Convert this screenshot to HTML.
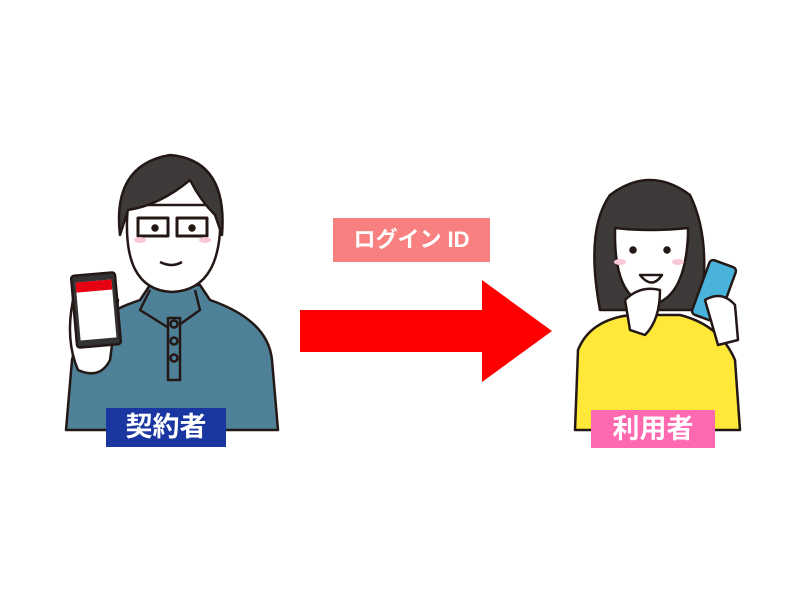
<!DOCTYPE html>
<html><head><meta charset="utf-8"><style>
body{margin:0;background:#fff;width:800px;height:600px;overflow:hidden;font-family:"Liberation Sans","Noto Sans CJK JP",sans-serif}
</style></head><body>
<svg width="800" height="600" viewBox="0 0 800 600" xmlns="http://www.w3.org/2000/svg">
<g stroke="#231815" stroke-width="2.5" stroke-linejoin="round">
<!-- man -->
<path d="M66 430 L72 360 Q80 320 140 300 L150 285 L200 285 L210 300 Q268 320 272 360 L278 430 Z" fill="#4e8197"/>
<path d="M150 290 L140 310 L172 330 L200 310 L195 290" fill="#4e8197"/>
<rect x="168" y="318" width="12" height="62" fill="#4e8197"/>
<circle cx="174" cy="324" r="3.5" fill="#4e8197"/><circle cx="174" cy="341" r="3.5" fill="#4e8197"/><circle cx="174" cy="358" r="3.5" fill="#4e8197"/>
<path d="M128 205 Q120 290 172 292 Q225 290 220 205 Z" fill="#fff"/>
<path d="M120 235 Q112 165 170 155 Q228 160 222 235 L215 215 Q200 200 190 180 Q160 205 128 210 Z" fill="#3e3a39"/>
<rect x="138" y="218" width="30" height="18" fill="none" stroke-width="3"/>
<rect x="177" y="218" width="30" height="18" fill="none" stroke-width="3"/>
<circle cx="155" cy="228" r="2.5" fill="#231815"/><circle cx="192" cy="228" r="2.5" fill="#231815"/>
<path d="M160 262 Q172 268 182 262" fill="none"/>
<path d="M73 300 Q65 340 78 370 Q100 380 110 360 L118 300 Z" fill="#fff"/>
<rect x="74" y="274" width="44" height="72" rx="3" fill="#333" transform="rotate(-5 96 310)"/>
<rect x="78" y="281" width="36" height="58" fill="#fff" stroke="none" transform="rotate(-5 96 310)"/>
<rect x="78" y="281" width="36" height="10" fill="#e60012" stroke="none" transform="rotate(-5 96 310)"/>
<!-- woman -->
<path d="M575 430 L578 350 Q590 320 630 315 L680 315 Q720 325 735 360 L740 430 Z" fill="#ffe838"/>
<path d="M600 310 Q585 230 610 195 Q650 165 690 195 Q712 240 700 310 Z" fill="#3e3a39"/>
<path d="M615 235 Q615 300 650 305 Q685 300 688 235 L688 228 Q650 232 615 228 Z" fill="#fff"/>
<circle cx="633" cy="250" r="2.5" fill="#231815"/><circle cx="667" cy="250" r="2.5" fill="#231815"/>
<path d="M640 275 Q652 290 662 275 Z" fill="#fff"/>
<path d="M625 300 Q640 285 660 290 Q660 320 645 335 L630 330 Z" fill="#fff"/>
<rect x="700" y="262" width="28" height="58" rx="4" fill="#4ab3dc" transform="rotate(20 714 291)"/>
<path d="M705 300 Q722 290 735 305 L738 340 L718 345 Z" fill="#fff"/>
</g>
<ellipse cx="140" cy="240" rx="6" ry="3" fill="#f8c8d8"/><ellipse cx="205" cy="240" rx="6" ry="3" fill="#f8c8d8"/>
<ellipse cx="620" cy="262" rx="6" ry="3" fill="#f8c8d8"/><ellipse cx="678" cy="262" rx="6" ry="3" fill="#f8c8d8"/>
<!-- arrow -->
<rect x="300" y="310" width="183" height="42" fill="#ff0000"/>
<polygon points="482,280 552,331 482,382" fill="#ff0000"/>
</svg>
<div style="position:absolute;left:333px;top:218px;width:157px;height:44px;background:#f88080;color:#fff;font-size:22px;font-weight:bold;line-height:44px;text-align:center">ログイン ID</div>
<div style="position:absolute;left:106px;top:408px;width:120px;height:39px;background:#1a36a0;color:#fff;font-size:27px;font-weight:bold;line-height:39px;text-align:center">契約者</div>
<div style="position:absolute;left:591px;top:410px;width:124px;height:38px;background:#ff69b0;color:#fff;font-size:27px;font-weight:bold;line-height:38px;text-align:center">利用者</div>
</body></html>
